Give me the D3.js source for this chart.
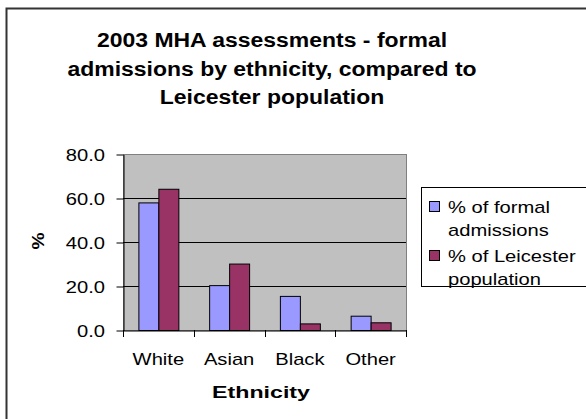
<!DOCTYPE html>
<html><head><meta charset="utf-8">
<script src="https://cdn.jsdelivr.net/npm/d3@7"></script>
<style>body{margin:0;background:#fff}svg{display:block;font-family:"Liberation Sans",Arial,sans-serif}</style>
</head><body>
<svg id="c" width="586" height="419"></svg>
<script>
const categories = ["White", "Asian", "Black", "Other"];
const seriesNames = ["% of formal admissions", "% of Leicester population"];
const formalAdmissions = [58.0, 20.4, 15.5, 6.5];
const leicesterPopulation = [64.2, 30.2, 3.0, 3.5];
const yTicks = [0, 20, 40, 60, 80];
const titleLines = ["2003 MHA assessments - formal", "admissions by ethnicity, compared to", "Leicester population"];
const legendLines = [["% of formal", "admissions"], ["% of Leicester", "population"]];
const colors = ["#9999FF", "#993366"];

const SX = 1.26; // horizontal stretch of the reference's text rendering
const svg = d3.select("#c");

function txt(g, x, y, s, opts) {
  const o = Object.assign({size: 16, weight: "normal", anchor: "start", sx: SX, rotate: 0}, opts || {});
  return g.append("text")
    .attr("transform", `translate(${x},${y})` + (o.rotate ? ` rotate(${o.rotate})` : "") + ` scale(${o.sx},1)`)
    .attr("text-anchor", o.anchor).attr("font-size", o.size).attr("font-weight", o.weight)
    .attr("fill", "#000").text(s);
}

// outer frame
svg.append("rect").attr("x", 6.5).attr("y", 8.5).attr("width", 600).attr("height", 430)
  .attr("fill", "#fff").attr("stroke", "#333").attr("stroke-width", 2);

const L = 123, R = 406, T = 154, B = 330;
const x = d3.scaleBand().domain(categories).range([L, R]).paddingInner(0.435).paddingOuter(0.2175);
const xs = d3.scaleBand().domain([0, 1]).range([0, x.bandwidth()]);
const y = d3.scaleLinear().domain([0, 80]).range([B, T]);

svg.append("rect").attr("x", L + 0.5).attr("y", T + 0.5).attr("width", R - L).attr("height", B - T)
  .attr("fill", "#C0C0C0").attr("stroke", "#808080").attr("stroke-width", 1);

svg.append("g").selectAll("line").data(yTicks.filter(d => d > 0 && d < 80)).join("line")
  .attr("x1", L).attr("x2", R).attr("y1", d => Math.round(y(d)) + 0.5).attr("y2", d => Math.round(y(d)) + 0.5)
  .attr("stroke", "#000").attr("stroke-width", 1);

const data = [formalAdmissions, leicesterPopulation];
data.forEach((vals, si) => {
  svg.append("g").selectAll("rect").data(vals).join("rect")
    .attr("x", (d, i) => x(categories[i]) + xs(si) + 0.5)
    .attr("y", d => y(d) + 0.5)
    .attr("width", xs.bandwidth())
    .attr("height", d => B - y(d))
    .attr("fill", colors[si]).attr("stroke", "#000").attr("stroke-width", 1);
});

// y axis (line + ticks via d3 axis, labels drawn with stretch)
const yAxis = d3.axisLeft(y).tickValues(yTicks).tickFormat("").tickSize(7).tickSizeOuter(0);
const gy = svg.append("g").attr("transform", `translate(${L + 0.5},0.5)`).call(yAxis);
gy.select(".domain").attr("stroke", "#000");
gy.selectAll(".tick line").attr("stroke", "#000");
const fmt = d3.format(".1f");
const gyl = svg.append("g");
yTicks.forEach(t => txt(gyl, 105, y(t) + 6.5, fmt(t), {anchor: "end"}));

// x axis
const xAxis = d3.axisBottom(x).tickSize(0).tickFormat("").tickSizeOuter(0);
const gx = svg.append("g").attr("transform", `translate(0,${B + 0.5})`).call(xAxis);
gx.select(".domain").attr("stroke", "#000");
const seps = d3.range(categories.length + 1).map(i => L + i * (R - L) / categories.length);
svg.append("g").selectAll("line").data(seps).join("line")
  .attr("x1", d => Math.round(d) + 0.5).attr("x2", d => Math.round(d) + 0.5)
  .attr("y1", B).attr("y2", B + 7).attr("stroke", "#000");
const gxl = svg.append("g");
categories.forEach(c => txt(gxl, x(c) + x.bandwidth() / 2, 365, c, {anchor: "middle"}));

// titles
const gt = svg.append("g");
titleLines.forEach((t, i) => txt(gt, 272, 47 + i * 28.5, t, {size: 21, weight: "bold", anchor: "middle", sx: 1.094}));

txt(svg, 261, 398, "Ethnicity", {weight: "bold", anchor: "middle", sx: 1.45});
txt(svg, 44, 241, "%", {weight: "bold", anchor: "middle", rotate: -90, sx: 1.2});

// legend
const lg = svg.append("g");
lg.append("rect").attr("x", 421.5).attr("y", 187.5).attr("width", 200).attr("height", 99)
  .attr("fill", "#fff").attr("stroke", "#000").attr("stroke-width", 1);
legendLines.forEach((lines, i) => {
  const by = 213 + i * 49;
  lg.append("rect").attr("x", 429.5).attr("y", by - 11.5).attr("width", 10).attr("height", 10)
    .attr("fill", colors[i]).attr("stroke", "#000");
  lines.forEach((t, j) => txt(lg, 448, by + j * 22.5, t));
});
</script>
</body></html>
